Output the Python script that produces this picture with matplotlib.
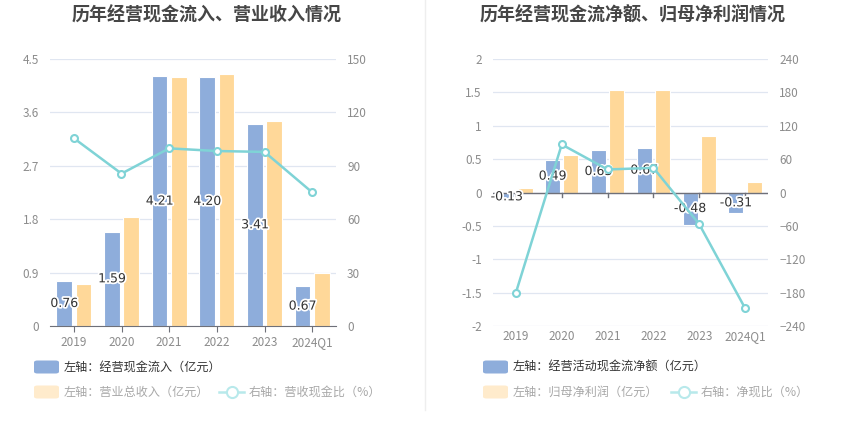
import matplotlib
matplotlib.use("Agg")
import matplotlib.pyplot as plt
import matplotlib.patheffects as pe
from matplotlib.patches import FancyBboxPatch
from matplotlib.lines import Line2D
import numpy as np

plt.rcParams['font.family'] = ['Noto Sans CJK SC', 'DejaVu Sans']

years = ['2019', '2020', '2021', '2022', '2023', '2024Q1']

# left chart
cash_in = [0.76, 1.59, 4.21, 4.20, 3.41, 0.67]
revenue = [0.71, 1.84, 4.19, 4.25, 3.46, 0.89]
cash_ratio = [105.5, 85.6, 99.8, 98.3, 97.8, 75.1]

# right chart
net_cash = [-0.13, 0.49, 0.63, 0.67, -0.48, -0.31]
net_profit = [0.07, 0.56, 1.54, 1.54, 0.85, 0.15]
net_ratio = [-180.0, 86.3, 41.4, 44.3, -57.0, -208.0]

BLUE = '#8eaddb'
ORANGE = '#ffd899'
TEAL = '#7fd3d6'
GRID = '#e0e6f1'
TICK = '#8c8c8c'
AXIS = '#6e7079'

W, H = 850, 437
fig = plt.figure(figsize=(W / 100, H / 100), dpi=100)


def px_axes(x0, x1, y0, y1):
    return fig.add_axes([x0 / W, 1 - y1 / H, (x1 - x0) / W, (y1 - y0) / H])


def style(ax, ax2):
    for a in (ax, ax2):
        for s in a.spines.values():
            s.set_visible(False)
        a.tick_params(axis='y', length=0, colors=TICK, labelsize=8.5, pad=8)
    ax.grid(axis='y', color=GRID, lw=0.9)
    ax.set_axisbelow(True)
    ax.tick_params(axis='x', colors=TICK, labelsize=8.5, length=4, color=AXIS, pad=3)
    ax.set_xlim(-0.5, len(years) - 0.5)


def labels(ax, x, vals):
    for xi, v in zip(x, vals):
        ax.text(xi, v / 2, f'{v:.2f}', ha='center', va='center', fontsize=9, color='#333333',
                family=['DejaVu Sans'],
                path_effects=[pe.withStroke(linewidth=2.5, foreground='white')], zorder=6)


x = np.arange(len(years))
bw = 0.33
off = 0.2

# ---- left chart
ax = px_axes(50, 336, 59, 326)
ax2 = ax.twinx()
ax.bar(x - off, cash_in, bw, color=BLUE, edgecolor='white', lw=0.8, zorder=2)
ax.bar(x + off, revenue, bw, color=ORANGE, edgecolor='white', lw=0.8, zorder=2)
ax.set_ylim(0, 4.5)
ax.set_yticks([0, 0.9, 1.8, 2.7, 3.6, 4.5])
ax.set_yticklabels(['0', '0.9', '1.8', '2.7', '3.6', '4.5'])
ax2.plot(x, cash_ratio, color=TEAL, lw=1.8, marker='o', ms=5, mfc='white', mec=TEAL, mew=1.5, zorder=5)
ax2.set_ylim(0, 150)
ax2.set_yticks([0, 30, 60, 90, 120, 150])
style(ax, ax2)
ax.spines['bottom'].set_visible(True)
ax.spines['bottom'].set_color(AXIS)
ax.set_xticks(x)
ax.set_xticklabels(years)
labels(ax, x - off, cash_in)

# ---- right chart
bx = px_axes(493, 768, 59, 326)
bx2 = bx.twinx()
bx.bar(x - off, net_cash, bw, color=BLUE, edgecolor='white', lw=0.8, zorder=2)
bx.bar(x + off, net_profit, bw, color=ORANGE, edgecolor='white', lw=0.8, zorder=2)
bx.set_ylim(-2, 2)
bx.set_yticks([-2, -1.5, -1, -0.5, 0, 0.5, 1, 1.5, 2])
bx.set_yticklabels(['-2', '-1.5', '-1', '-0.5', '0', '0.5', '1', '1.5', '2'])
bx2.plot(x, net_ratio, color=TEAL, lw=1.8, marker='o', ms=5, mfc='white', mec=TEAL, mew=1.5, zorder=5)
bx2.set_ylim(-240, 240)
bx2.set_yticks([-240, -180, -120, -60, 0, 60, 120, 180, 240])
style(bx, bx2)
bx.set_xticks(x)
bx.set_xticklabels(years)
bx.tick_params(axis='x', length=0)
bx.axhline(0, color=AXIS, lw=1, zorder=3)
for xi in x:
    bx.plot([xi, xi], [0, -0.06], color=AXIS, lw=1, zorder=3)
labels(bx, x - off, net_cash)

# ---- titles
fig.text(207 / W, 1 - 15 / H, '历年经营现金流入、营业收入情况', ha='center', va='center',
         fontsize=13, fontweight='bold', color='#464646')
fig.text(633 / W, 1 - 15 / H, '历年经营现金流净额、归母净利润情况', ha='center', va='center',
         fontsize=13, fontweight='bold', color='#464646')

# divider
fig.add_artist(Line2D([425 / W, 425 / W], [1 - 0 / H, 1 - 410 / H], color='#eeeeee', lw=1))


# ---- legends
def patch(x0, yc, color):
    fig.add_artist(FancyBboxPatch((x0 / W, 1 - (yc + 6.5) / H), 25 / W, 13 / H,
                                  boxstyle='round,pad=0,rounding_size=0.004',
                                  transform=fig.transFigure, facecolor=color, edgecolor='none'))


def legline(x0, yc):
    fig.add_artist(Line2D([x0 / W, (x0 + 25) / W], [1 - yc / H, 1 - yc / H], color='#b8e9eb', lw=1.8,
                          transform=fig.transFigure))
    fig.add_artist(Line2D([(x0 + 12.5) / W], [1 - yc / H], marker='o', ms=8, mfc='white',
                          mec='#b8e9eb', mew=1.5, transform=fig.transFigure))


def legtext(x0, yc, s, color):
    fig.text(x0 / W, 1 - yc / H, s, ha='left', va='center', fontsize=8.7, color=color)


for base, t1, t2 in [(0, '左轴：经营现金流入（亿元）', '左轴：营业总收入（亿元）'),
                     (449, '左轴：经营活动现金流净额（亿元）', '左轴：归母净利润（亿元）')]:
    patch(base + 34, 367, BLUE)
    legtext(base + 64, 367, t1, '#333333')
    patch(base + 34, 392, '#ffebcc')
    legtext(base + 64, 392, t2, '#a8a8a8')

legline(219, 392)
legtext(249, 392, '右轴：营收现金比（%）', '#a8a8a8')
legline(671, 392)
legtext(701, 392, '右轴：净现比（%）', '#a8a8a8')

fig.savefig('out.png', dpi=100, facecolor='white')
